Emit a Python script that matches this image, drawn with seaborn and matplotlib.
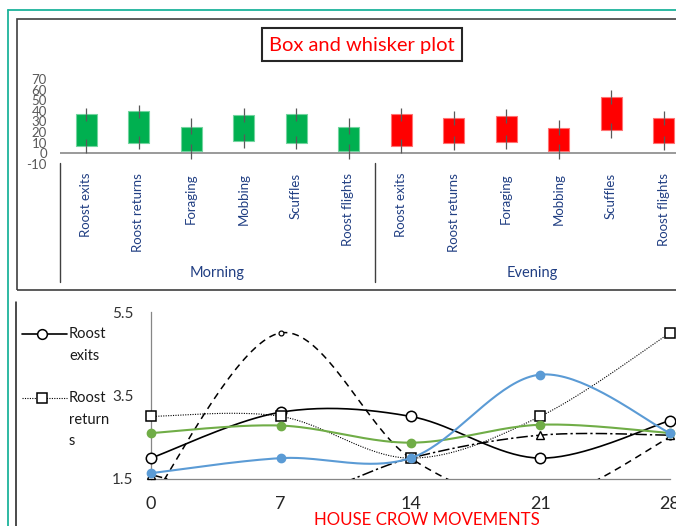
import numpy as np
import pandas as pd
import matplotlib
matplotlib.use("Agg")
import matplotlib.pyplot as plt
import seaborn as sns
from matplotlib.lines import Line2D
from matplotlib.patches import Rectangle
from matplotlib.transforms import blended_transform_factory
from matplotlib.colors import to_rgb

# ---------------- data ----------------
behaviours = ["Roost exits", "Roost returns", "Foraging", "Mobbing", "Scuffles", "Roost flights"]
sessions = ["Morning", "Evening"]

morning_low = [0, 4, -5, 5, 4, -5]
morning_q1 = [7, 10, 2, 12, 10, 2]
morning_q3 = [37, 40, 25, 36, 37, 25]
morning_high = [43, 46, 33, 43, 43, 33]

evening_low = [0, 3, 4, -5, 14, 3]
evening_q1 = [7, 10, 11, 2, 22, 10]
evening_q3 = [37, 33, 35, 24, 53, 33]
evening_high = [43, 40, 42, 31, 60, 40]

box_yticks = [-10, 0, 10, 20, 30, 40, 50, 60, 70]

days = [0, 7, 14, 21, 28]
roost_exits = [2.0, 3.1, 3.0, 2.0, 2.9]
roost_returns = [3.0, 3.0, 2.0, 3.0, 5.0]
foraging = [1.0, 5.0, 2.0, 1.0, 2.5]
mobbing = [1.6, 1.0, 2.0, 2.55, 2.55]
scuffles = [2.6, 2.78, 2.37, 2.8, 2.6]
roost_flights = [1.64, 2.0, 2.0, 4.0, 2.6]
line_yticks = [1.5, 3.5, 5.5]

# ---------------- style ----------------
sns.set_style("white")
plt.rcParams["font.family"] = ["Lato", "DejaVu Sans"]

W, H = 676, 526
fig = plt.figure(figsize=(W / 100, H / 100), dpi=100)


def fx(px):
    return px / W


def fy(py):
    return 1 - py / H


NAVY = "#213F83"
TEAL = "#1DB39B"

# outer decorations
fig.add_artist(Line2D([fx(8), fx(8)], [fy(10), 0], color=TEAL, lw=1.3, transform=fig.transFigure))
fig.add_artist(Line2D([fx(8), 1], [fy(10), fy(10)], color=TEAL, lw=1.3, transform=fig.transFigure))
fig.add_artist(Rectangle((fx(17), fy(290)), fx(740) - fx(17), fy(19) - fy(290), fill=False,
                         edgecolor="#3f3f3f", lw=1.2, transform=fig.transFigure))
fig.add_artist(Line2D([fx(16), fx(16)], [fy(302), 0], color="#1a1a1a", lw=1.1, transform=fig.transFigure))

# ---------------- box and whisker panel ----------------
ax1 = fig.add_axes([fx(59.75), fy(163.9), 630 / W, 84.8 / H])
ax1.set_facecolor("none")

lows = morning_low + evening_low
q1s = morning_q1 + evening_q1
q3s = morning_q3 + evening_q3
highs = morning_high + evening_high

rows = []
for k in range(len(lows)):
    sess = sessions[k // len(behaviours)]
    for v in (lows[k], q1s[k], q1s[k], q3s[k], highs[k]):
        rows.append((k, sess, v))
box_df = pd.DataFrame(rows, columns=["slot", "session", "count"])

sns.boxplot(data=box_df, x="slot", y="count", hue="session",
            palette={"Morning": "#00B050", "Evening": "#FF0000"}, saturation=1,
            dodge=False, width=0.4, whis=(0, 100), showcaps=False, showfliers=False,
            linecolor="#595959", linewidth=0.9, medianprops=dict(linewidth=0),
            legend=False, ax=ax1)

for p in ax1.patches:
    fc = np.array(to_rgb(p.get_facecolor()[:3]))
    p.set_edgecolor(tuple(fc + (1 - fc) * 0.45))
    p.set_linewidth(0.8)

slots = np.arange(len(lows))
ax1.vlines(slots, np.array(q3s) - 6.5, q3s, color="#595959", lw=0.9, zorder=4)
ax1.vlines(slots, q1s, np.array(q1s) + 6.5, color="#595959", lw=0.9, zorder=4)

ax1.axhline(0, color="#7f7f7f", lw=1.1, zorder=1)
ax1.set_xlim(-0.5, len(lows) - 0.5)
ax1.set_ylim(box_yticks[0], box_yticks[-1])
ax1.set_yticks(box_yticks)
ax1.set_yticklabels([str(v) for v in box_yticks])
ax1.tick_params(axis="y", length=0, pad=9.2, labelsize=9.5, labelcolor="#595959")
ax1.set_xticks(slots)
ax1.set_xticklabels(behaviours * 2, rotation=90, color=NAVY, fontsize=9.5)
ax1.tick_params(axis="x", length=0, pad=6.5)
ax1.set_xlabel("")
ax1.set_ylabel("")
for s in ax1.spines.values():
    s.set_visible(False)

trans1 = blended_transform_factory(ax1.transData, fig.transFigure)
for xv in (-0.5, len(behaviours) - 0.5, len(lows) - 0.5):
    ax1.plot([xv, xv], [fy(163), fy(282)], transform=trans1, clip_on=False, color="#404040", lw=1.0)
for i, sess in enumerate(sessions):
    centre = i * len(behaviours) + (len(behaviours) - 1) / 2
    ax1.text(centre, fy(273), sess, transform=trans1, ha="center", va="center",
             color=NAVY, fontsize=10.5)

fig.add_artist(Rectangle((fx(262), fy(61)), fx(462) - fx(262), fy(28) - fy(61), fill=False,
                         edgecolor="#262626", lw=1.5, transform=fig.transFigure))
fig.text(fx(362), fy(45), "Box and whisker plot", color="#FF0000", fontsize=14.5,
         ha="center", va="center")

# ---------------- movements panel ----------------
ax2 = fig.add_axes([fx(151), fy(479), 519 / W, 167 / H])
ax2.set_facecolor("none")


def smooth_path(x, y, steps=40):
    p = np.column_stack([x, y]).astype(float)
    ext = np.vstack([p[0], p, p[-1]])
    t = np.linspace(0, 1, steps)[1:, None]
    h00 = 2 * t**3 - 3 * t**2 + 1
    h10 = t**3 - 2 * t**2 + t
    h01 = -2 * t**3 + 3 * t**2
    h11 = t**3 - t**2
    out = [p[:1]]
    for i in range(len(p) - 1):
        p0, p1, p2, p3 = ext[i], ext[i + 1], ext[i + 2], ext[i + 3]
        m1 = (p2 - p0) / 2
        m2 = (p3 - p1) / 2
        out.append(h00 * p1 + h10 * m1 + h01 * p2 + h11 * m2)
    pts = np.vstack(out)
    return pts[:, 0], pts[:, 1]


series = [
    (foraging, dict(color="black", lw=1.1, ls=(0, (4.5, 3.3))),
     dict(marker="o", ms=3.5, mfc="white", mec="black", mew=0.9)),
    (mobbing, dict(color="black", lw=1.1, ls=(0, (7.5, 2, 1.5, 2))),
     dict(marker="^", ms=6, mfc="white", mec="black", mew=1.0)),
    (roost_exits, dict(color="black", lw=1.2, ls="-"),
     dict(marker="o", ms=7.5, mfc="white", mec="black", mew=1.1)),
    (roost_returns, dict(color="black", lw=0.8, ls=(0, (1, 1.2))),
     dict(marker="s", ms=7, mfc="white", mec="black", mew=1.1)),
    (scuffles, dict(color="#70AD47", lw=1.5, ls="-"),
     dict(marker="o", ms=6, mfc="#70AD47", mec="#70AD47", mew=1.0)),
    (roost_flights, dict(color="#5B9BD5", lw=1.5, ls="-"),
     dict(marker="o", ms=6, mfc="#5B9BD5", mec="#5B9BD5", mew=1.0)),
]

ymin, ymax = line_yticks[0], line_yticks[-1]
for z, (vals, line_kw, mark_kw) in enumerate(series):
    sx, sy = smooth_path(days, vals)
    ax2.plot(sx, sy, zorder=3 + z, **line_kw)
    v = np.array(vals)
    d = np.array(days)
    keep = v >= ymin
    ax2.plot(d[keep], v[keep], ls="none", clip_on=False, zorder=3 + z, **mark_kw)

ax2.set_xlim(days[0], days[-1])
ax2.set_ylim(ymin, ymax)
ax2.set_xticks(days)
ax2.set_xticklabels([str(d) for d in days])
ax2.set_yticks(line_yticks)
ax2.set_yticklabels([f"{v:.1f}" for v in line_yticks])
for side in ("top", "right"):
    ax2.spines[side].set_visible(False)
for side in ("left", "bottom"):
    ax2.spines[side].set_color("#868686")
    ax2.spines[side].set_linewidth(0.9)
ax2.tick_params(axis="y", direction="out", length=4, width=0.9, color="#868686",
                pad=8.6, labelsize=11, labelcolor="#333333")
ax2.tick_params(axis="x", direction="out", length=4, width=0.9, color="#868686",
                pad=8.5, labelsize=13, labelcolor="#262626")
ax2.set_xlabel("")
ax2.set_ylabel("")

fig.text(fx(427), fy(520), "HOUSE CROW MOVEMENTS", color="#FF0000", fontsize=12.2,
         ha="center", va="center")

# legend (first two entries)
legend_items = [
    (334, ["Roost", "exits"], dict(color="black", lw=1.2, ls="-"),
     dict(marker="o", ms=7, mfc="white", mec="black", mew=1.1)),
    (398, ["Roost", "return", "s"], dict(color="black", lw=0.8, ls=(0, (1, 1.2))),
     dict(marker="s", ms=7, mfc="white", mec="black", mew=1.1)),
]
for y0, words, lkw, mkw in legend_items:
    fig.add_artist(Line2D([fx(22), fx(67)], [fy(y0), fy(y0)], transform=fig.transFigure, **lkw))
    fig.add_artist(Line2D([fx(42)], [fy(y0)], ls="none", transform=fig.transFigure, **mkw))
    for j, w in enumerate(words):
        fig.text(fx(69), fy(y0 + 21.5 * j), w, ha="left", va="center", fontsize=10.5,
                 color="#1a1a1a")

fig.savefig("out.png", dpi=100)
